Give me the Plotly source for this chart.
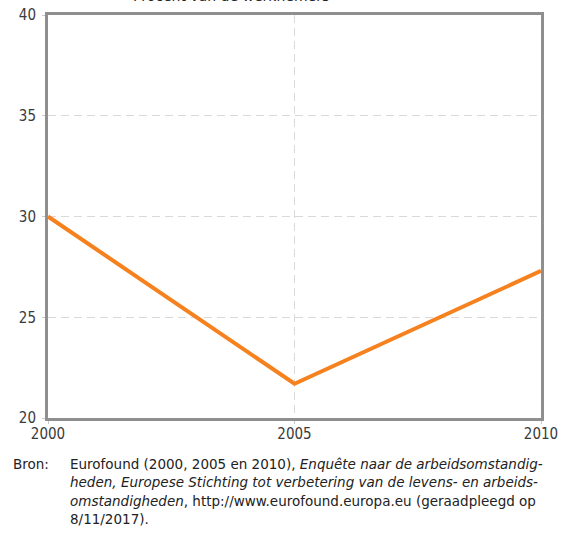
import plotly.graph_objects as go

years = [2000, 2005, 2010]
pct = [30.0, 21.7, 27.3]
y_ticks = [20, 25, 30, 35, 40]

title_txt = "Procent van de werknemers"
bron_label = "Bron:"
bron_lines = [
    "Eurofound (2000, 2005 en 2010), <i>Enquête naar de arbeidsomstandig-</i>",
    "<i>heden, Europese Stichting tot verbetering van de levens- en arbeids-</i>",
    "<i>omstandigheden</i>, http://www.eurofound.europa.eu (geraadpleegd op",
    "8/11/2017).",
]

fig = go.Figure()
fig.add_trace(go.Scatter(x=years, y=pct, mode="lines",
                         line=dict(color="#f5821f", width=4), cliponaxis=False))

axis_common = dict(showline=True, linecolor="#8f8f8f", linewidth=3, mirror=True,
                   showgrid=True, gridcolor="#d9d9d9", griddash="8px,5px", gridwidth=1,
                   ticks="outside", ticklen=3, tickcolor="#c8c8c8", automargin=False,
                   zeroline=False, tickfont=dict(family="DejaVu Sans Condensed, DejaVu Sans",
                                                 size=15, color="#3a3a3a"))
fig.update_xaxes(range=[2000, 2010], tickvals=years, ticklabelstandoff=-3, **axis_common)
fig.update_yaxes(range=[20, 40], tickvals=y_ticks, ticklabelstandoff=3, **axis_common)

# title sits partly above the page edge, as in the source
fig.add_annotation(text=title_txt, xref="paper", yref="paper", x=0.371, y=1,
                   yanchor="bottom", yshift=9, showarrow=False,
                   font=dict(family="DejaVu Sans", size=14, color="#222"))

fig.add_annotation(text=bron_label, xref="paper", yref="paper", x=-0.076, y=0,
                   xanchor="left", yanchor="top", yshift=-36, showarrow=False,
                   font=dict(family="DejaVu Sans", size=13.5, color="#222"))
for i, ln in enumerate(bron_lines):
    fig.add_annotation(text=ln, xref="paper", yref="paper", x=0.04, y=0,
                       xanchor="left", yanchor="top", yshift=-36 - 18.4 * i,
                       showarrow=False,
                       font=dict(family="DejaVu Sans", size=13.5, color="#222"))

fig.update_layout(width=583, height=543, margin=dict(l=48, r=42, t=15, b=125),
                  plot_bgcolor="white", paper_bgcolor="white", showlegend=False)

fig.write_html("out.html", config={"displayModeBar": False},
               post_script="document.body.style.margin='0';")
